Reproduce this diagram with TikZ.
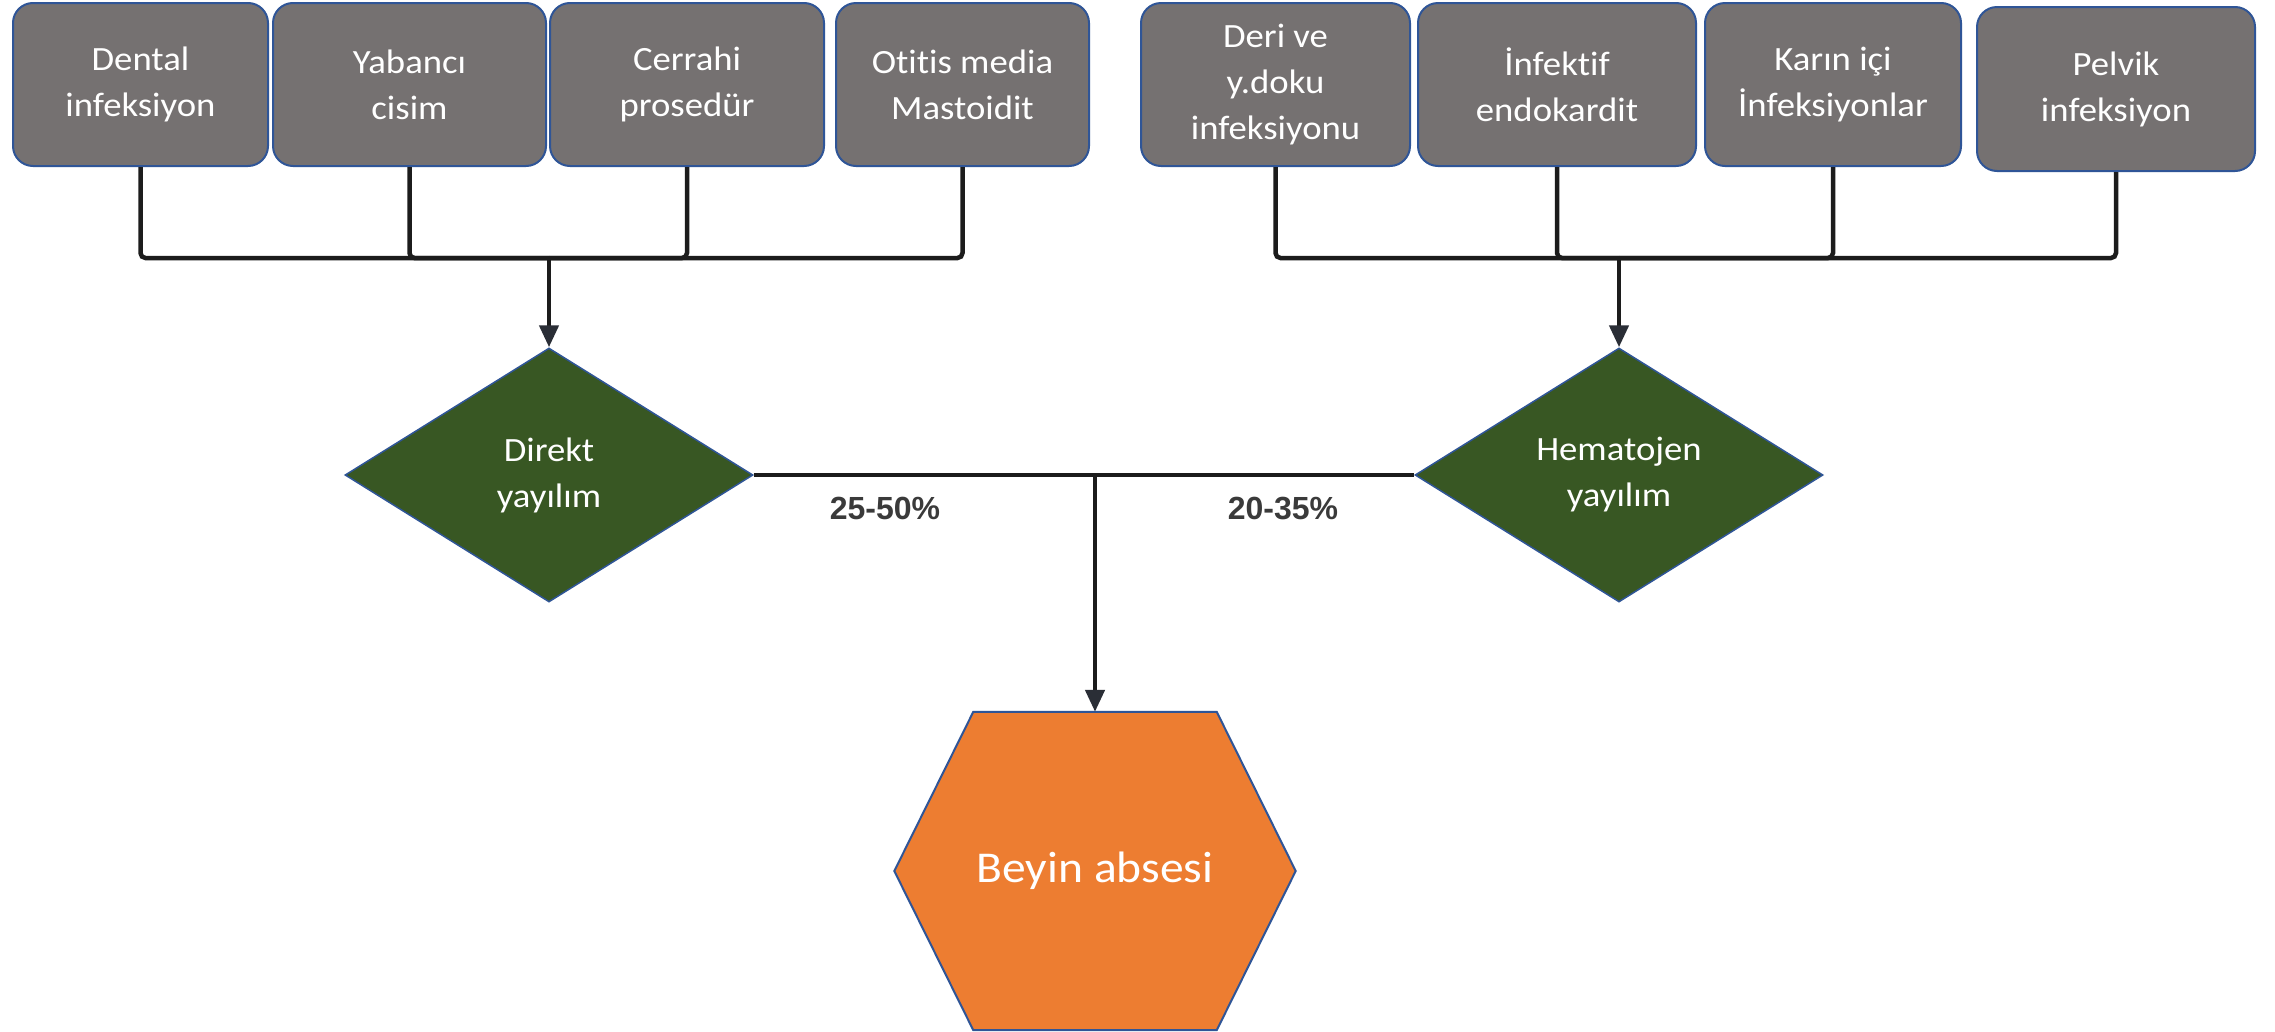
\documentclass[tikz,border=0pt]{standalone}
\usepackage{fontspec}
\setmainfont{Carlito}[FakeStretch=1.08,Ligatures=NoCommon]
\newfontfamily\lblfont{Liberation Sans}
\usetikzlibrary{shapes.geometric,arrows.meta,calc}
\definecolor{boxgray}{HTML}{757171}
\definecolor{edgeblue}{HTML}{2F5597}
\definecolor{dgreen}{HTML}{385723}
\definecolor{orng}{HTML}{ED7D31}
\definecolor{conn}{HTML}{1C1C1C}
\definecolor{tipc}{HTML}{2A2E36}
\definecolor{lbl}{HTML}{3A3A3A}
\begin{document}
\begin{tikzpicture}[x=1pt,y=-1pt,
  srcbox/.style={draw=edgeblue,line width=2pt,fill=boxgray,rounded corners=20pt,
    minimum height=163pt,text=white,align=center,inner sep=0pt,
    font=\fontsize{34}{46}\selectfont},
  spread/.style={diamond,draw=edgeblue,line width=1.5pt,fill=dgreen,text=white,
    align=center,inner sep=0pt,minimum width=408pt,minimum height=254pt,
    font=\fontsize{34}{46}\selectfont},
  link/.style={draw=conn,line width=4.5pt,rounded corners=5pt},
  arr/.style={link,-{Triangle[length=22pt,width=19pt,color=tipc]}},
  pct/.style={text=lbl,font=\lblfont\bfseries\fontsize{32}{36}\selectfont,inner sep=0pt},
  hexfill/.style={draw=edgeblue,line width=2pt,fill=orng,line join=miter}
]
\useasboundingbox (0,0) rectangle (2275,1031);
\fill[white] (0,0) rectangle (2275,1031);

% source boxes
\node[srcbox,minimum width=255pt] (b1) at (140.5,84.5) {Dental\\infeksiyon};
\node[srcbox,minimum width=273pt] (b2) at (409.5,84.5) {Yabancı\\cisim};
\node[srcbox,minimum width=274pt] (b3) at (687,84.5) {Cerrahi\\prosedür};
\node[srcbox,minimum width=253pt] (b4) at (962.5,84.5) {Otitis media\\Mastoidit};
\node[srcbox,minimum width=269pt] (b5) at (1275.5,84.5) {Deri ve\\y.doku\\infeksiyonu};
\node[srcbox,minimum width=278pt] (b6) at (1557,84.5) {İnfektif\\endokardit};
\node[srcbox,minimum width=256pt] (b7) at (1833,84.5) {Karın içi\\İnfeksiyonlar};
\node[srcbox,minimum width=278pt,minimum height=164pt] (b8) at (2116,89) {Pelvik\\infeksiyon};

% diamonds
\node[spread] (d1) at (549,475) {Direkt\\yayılım};
\node[spread] (d2) at (1619,475) {Hematojen\\yayılım};

% hexagon
\node[minimum width=401pt,minimum height=318pt,inner sep=0pt] (hex) at (1095,871) {};
\draw[hexfill] (hex.west) -- ($(hex.north west)+(79,0)$) -- ($(hex.north east)+(-79,0)$)
  -- (hex.east) -- ($(hex.south east)+(-79,0)$) -- ($(hex.south west)+(79,0)$) -- cycle;
\node[text=white,font=\fontsize{44}{50}\selectfont,inner sep=0pt] (hextext) at (hex.center) {Beyin absesi};

% junctions
\coordinate (jl) at (d1.north |- 0,258);
\coordinate (jr) at (d2.north |- 0,258);
\coordinate (jm) at (hex.north |- d1.east);

% left collector
\draw[link] (b1.south) |- (jl);
\draw[link] (b2.south) |- (jl);
\draw[link] (b3.south) |- (jl);
\draw[link] (b4.south) |- (jl);
\draw[arr] (jl) -- (d1.north);

% right collector
\draw[link] (b5.south) |- (jr);
\draw[link] (b6.south) |- (jr);
\draw[link] (b7.south) |- (jr);
\draw[link] (b8.south) |- (jr);
\draw[arr] (jr) -- (d2.north);

% bottom
\draw[link] (d1.east) -- (d2.west);
\draw[arr] (jm) -- (hex.north);

\node[pct] (p1) at (885,508) {25-50\%};
\node[pct] (p2) at (1283,508) {20-35\%};
\end{tikzpicture}
\end{document}
